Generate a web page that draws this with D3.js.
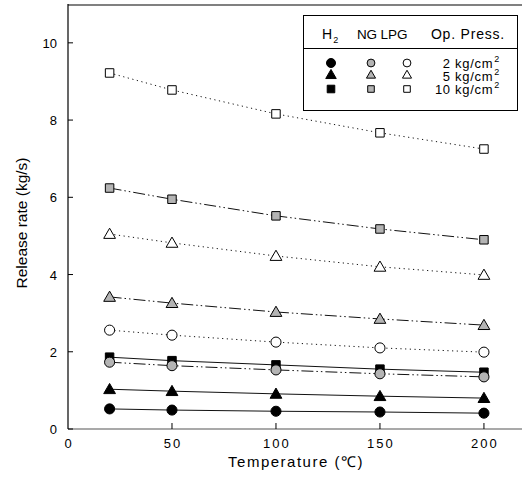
<!DOCTYPE html>
<html>
<head>
<meta charset="utf-8">
<script src="https://cdn.jsdelivr.net/npm/d3@7"></script>
<style>
body { margin: 0; background: #fff; }
text { font-family: "Liberation Sans", Arial, sans-serif; fill: #000; }
</style>
</head>
<body>
<svg id="chart" width="522" height="487"></svg>
<script>
const temps = [20, 50, 100, 150, 200]
const xTicks = [0, 50, 100, 150, 200]
const yTicks = [0, 2, 4, 6, 8, 10]
const gases = ['H2', 'NG', 'LPG']
const pressures = ['2', '5', '10']

// release rate (kg/s), one list per gas / pressure
const h2_2 = [0.52, 0.49, 0.46, 0.44, 0.41]
const h2_5 = [1.03, 0.98, 0.91, 0.85, 0.80]
const h2_10 = [1.86, 1.77, 1.66, 1.55, 1.47]
const ng_2 = [1.73, 1.64, 1.53, 1.43, 1.35]
const ng_5 = [3.42, 3.26, 3.03, 2.85, 2.69]
const ng_10 = [6.24, 5.95, 5.52, 5.18, 4.90]
const lpg_2 = [2.56, 2.43, 2.25, 2.10, 1.99]
const lpg_5 = [5.05, 4.82, 4.48, 4.20, 3.99]
const lpg_10 = [9.22, 8.78, 8.16, 7.67, 7.25]

const series = [
    {gas: 'H2', p: '2', v: h2_2}, {gas: 'H2', p: '5', v: h2_5}, {gas: 'H2', p: '10', v: h2_10},
    {gas: 'NG', p: '2', v: ng_2}, {gas: 'NG', p: '5', v: ng_5}, {gas: 'NG', p: '10', v: ng_10},
    {gas: 'LPG', p: '2', v: lpg_2}, {gas: 'LPG', p: '5', v: lpg_5}, {gas: 'LPG', p: '10', v: lpg_10},
]

const fillOf = {H2: '#000', NG: '#b4b4b4', LPG: '#fff'}
const dashOf = {H2: null, NG: '12,3,1.5,3,1.5,3', LPG: '1.2,3.5'}
const shapeOf = {'2': d3.symbolCircle, '5': d3.symbolTriangle, '10': d3.symbolSquare}
const sizeOf = {'2': 80, '5': 60, '10': 72}

const mLeft = 68, mTop = 5, mBottom = 429, mRight = 522
const x = d3.scaleLinear().domain([0, 218.3]).range([mLeft, mRight])
const y = d3.scaleLinear().domain([0, 10.98]).range([mBottom, mTop])

const svg = d3.select('#chart')

// frame
svg.append('line').attr('x1', mLeft).attr('x2', mRight).attr('y1', mTop).attr('y2', mTop)
    .style('stroke', '#808080').style('stroke-width', 2)
svg.append('line').attr('x1', mLeft).attr('x2', mRight).attr('y1', mBottom).attr('y2', mBottom)
    .style('stroke', '#555').style('stroke-width', 1.2)
svg.append('line').attr('x1', mLeft).attr('x2', mLeft).attr('y1', mTop - 1).attr('y2', mBottom)
    .style('stroke', '#000').style('stroke-width', 1.2)

// ticks
svg.selectAll('.ytick').data(yTicks).enter().append('line')
    .attr('x1', mLeft).attr('x2', mLeft + 5)
    .attr('y1', d => y(d)).attr('y2', d => y(d))
    .style('stroke', '#000')
svg.selectAll('.ylab').data(yTicks).enter().append('text')
    .attr('x', mLeft - 11).attr('y', d => y(d) + 5)
    .attr('text-anchor', 'end').style('font-size', '13px')
    .text(d => d)
svg.selectAll('.xtick').data(xTicks.slice(1)).enter().append('line')
    .attr('x1', d => x(d)).attr('x2', d => x(d))
    .attr('y1', mBottom).attr('y2', mBottom - 6)
    .style('stroke', '#000')
svg.selectAll('.xlab').data(xTicks).enter().append('text')
    .attr('x', d => x(d) + 1).attr('y', mBottom + 19)
    .attr('text-anchor', 'middle').style('font-size', '13px')
    .style('letter-spacing', '2px')
    .text(d => d)

// axis titles
svg.append('text').attr('x', 296).attr('y', 467)
    .attr('text-anchor', 'middle').style('font-size', '15px')
    .style('letter-spacing', '1.5px')
    .text('Temperature (℃)')
svg.append('text')
    .attr('transform', `translate(27,${(mTop + mBottom) / 2 + 6}) rotate(-90)`)
    .attr('text-anchor', 'middle').style('font-size', '15.5px')
    .text('Release rate (kg/s)')

// lines and markers
const line = d3.line().x((_, i) => x(temps[i])).y(d => y(d))
const g = svg.selectAll('.series').data(series).enter().append('g')
g.append('path')
    .attr('d', d => line(d.v))
    .style('fill', 'none').style('stroke', '#111').style('stroke-width', 1)
    .style('stroke-dasharray', d => dashOf[d.gas])
g.selectAll('path.pt')
    .data(d => d.v.map((v, i) => ({v: v, t: temps[i], gas: d.gas, p: d.p})))
    .enter().append('path')
    .attr('class', 'pt')
    .attr('d', d => d3.symbol(shapeOf[d.p], sizeOf[d.p])())
    .attr('transform', d => `translate(${x(d.t)},${y(d.v) + (d.p === '5' ? 1 : 0)})`)
    .style('fill', d => fillOf[d.gas]).style('stroke', '#000').style('stroke-width', 1)

// legend
const lg = svg.append('g')
lg.append('rect').attr('x', 303.5).attr('y', 15.5).attr('width', 214).attr('height', 95)
    .style('fill', '#fff').style('stroke', '#000')
lg.append('line').attr('x1', 303.5).attr('x2', 517.5).attr('y1', 48.5).attr('y2', 48.5)
    .style('stroke', '#000')
const colX = {H2: 331, NG: 371, LPG: 407}
const rowY = {'2': 63, '5': 75.5, '10': 89}
const h2 = lg.append('text').attr('x', 322).attr('y', 39).style('font-size', '14px')
h2.append('tspan').text('H')
h2.append('tspan').attr('dx', 1).attr('dy', 4).style('font-size', '9px').text('2')
lg.append('text').attr('x', 367).attr('y', 39).attr('text-anchor', 'middle')
    .style('font-size', '13.5px').text('NG')
lg.append('text').attr('x', 394).attr('y', 39).attr('text-anchor', 'middle')
    .style('font-size', '13.5px').text('LPG')
lg.append('text').attr('x', 468).attr('y', 39).attr('text-anchor', 'middle')
    .style('font-size', '14px').style('letter-spacing', '0.8px').text('Op. Press.')
gases.forEach(gas => {
    pressures.forEach(p => {
        lg.append('path')
            .attr('d', d3.symbol(shapeOf[p], sizeOf[p] * (gas === 'H2' ? 0.8 : 0.6))())
            .attr('transform', `translate(${colX[gas]},${rowY[p]})`)
            .style('fill', fillOf[gas]).style('stroke', '#000').style('stroke-width', 1)
    })
})
pressures.forEach(p => {
    const t = lg.append('text').attr('x', 500).attr('y', rowY[p] + 5)
        .attr('text-anchor', 'end').style('font-size', '13px')
        .style('letter-spacing', '0.7px')
    t.append('tspan').text(p + ' kg/cm')
    t.append('tspan').attr('dx', 1).attr('dy', -6).style('font-size', '9px').text('2')
})
</script>
</body>
</html>
